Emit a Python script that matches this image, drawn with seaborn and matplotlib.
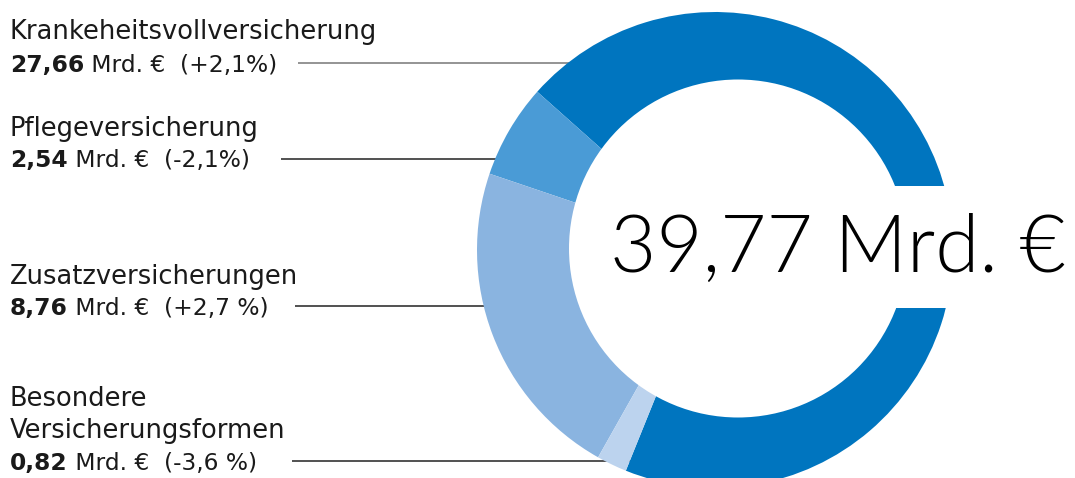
import matplotlib
matplotlib.use("Agg")
import matplotlib.pyplot as plt
from matplotlib.patches import Circle, Rectangle
import seaborn as sns

# ---- data ----
categories = ["Krankeheitsvollversicherung", "Pflegeversicherung",
              "Zusatzversicherungen", "Besondere\nVersicherungsformen"]
values = [27.66, 2.54, 8.76, 0.82]
value_labels = ["27,66", "2,54", "8,76", "0,82"]
change_labels = ["(+2,1%)", "(-2,1%)", "(+2,7 %)", "(-3,6 %)"]
total_label = "39,77 Mrd. €"
colors = ["#0075BF", "#4A9BD6", "#8AB4E0", "#BCD3EE"]

sns.set_theme(style="white")
plt.rcParams["font.family"] = ["DejaVu Sans"]

W, H = 1075, 478
fig = plt.figure(figsize=(W / 100, H / 100), dpi=100)
ax = fig.add_axes([0, 0, 1, 1])
ax.set_xlim(0, W)
ax.set_ylim(0, H)

def Y(y):  # pixel row -> data y
    return H - y

cx, cy, R = 715, Y(250), 238
palette = sns.color_palette(colors)
wedges, _ = ax.pie(values, colors=palette, startangle=248, counterclock=True,
                   center=(cx, cy), radius=R, wedgeprops=dict(linewidth=0))
for w in wedges:
    w.set_zorder(2)
ax.set_xlim(0, W)
ax.set_ylim(0, H)
ax.set_aspect("auto")
ax.axis("off")

# offset white hole and cut-out
ax.add_patch(Circle((738, Y(248.5)), 169, facecolor="white", edgecolor="none", zorder=3))
ax.add_patch(Rectangle((860, Y(308)), W - 860, 308 - 185.5,
                       facecolor="white", edgecolor="none", zorder=3))

ax.text(610, Y(272), total_label, fontsize=57.5, family=["Lato", "DejaVu Sans"],
        fontweight=300, color="black", ha="left", va="baseline", zorder=5)

# labels
title_baselines = [[39], [136], [284], [406, 438]]
value_baselines = [72, 167, 315, 470]
line_y = [62.5, 159, 306, 460.7]
line_x0 = [298, 281, 295, 292]
line_colors = ["#777777", "#222222", "#222222", "#222222"]
fs_title = 18.5
fs_val = 16.8
txt_col = "#1a1a1a"
fig.canvas.draw()
renderer = fig.canvas.get_renderer()
for i, cat in enumerate(categories):
    for ln, by in zip(cat.split("\n"), title_baselines[i]):
        ax.text(10, Y(by), ln, fontsize=fs_title, color=txt_col, ha="left",
                va="baseline", zorder=5)
    t1 = ax.text(10, Y(value_baselines[i]), value_labels[i], fontsize=fs_val,
                 fontweight="bold", color=txt_col, ha="left", va="baseline", zorder=5)
    bb = t1.get_window_extent(renderer=renderer)
    x_end = ax.transData.inverted().transform((bb.x1, bb.y0))[0]
    ax.text(x_end, Y(value_baselines[i]), " Mrd. €  " + change_labels[i],
            fontsize=fs_val, color=txt_col, ha="left", va="baseline", zorder=5)
    ax.plot([line_x0[i], cx], [Y(line_y[i]), Y(line_y[i])],
            color=line_colors[i], lw=1.1, zorder=1, solid_capstyle="butt")

fig.savefig("out.png", dpi=100, facecolor="white")
